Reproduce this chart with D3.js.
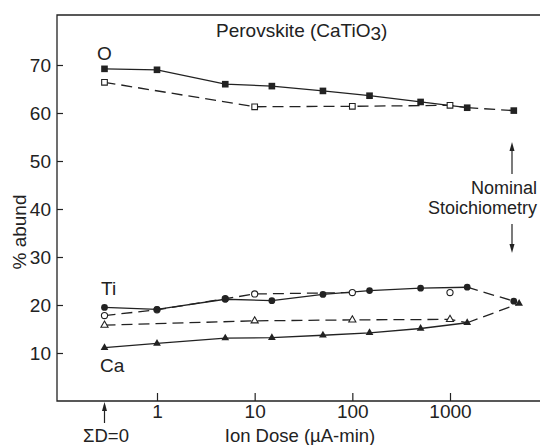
<!DOCTYPE html>
<html lang="en">
<head>
    <meta charset="UTF-8">
    <title>Perovskite ion dose</title>
    <script src="https://d3js.org/d3.v7.min.js"></script>
    <style>
        body {
            margin: 0;
            background: #fff;
            overflow: hidden;
        }
        text {
            fill: #222;
            font-family: 'Liberation Sans', Arial, sans-serif;
            font-size: 19px;
        }
    </style>
</head>
<body>
    <script>
        // doses (µA-min); 0 means ΣD=0
        const doseSolid = [0, 1, 5, 15, 50, 150, 500, 1500];
        const oSolid  = [69.2, 69.0, 66.0, 65.6, 64.6, 63.6, 62.3, 61.1];
        const tiSolid = [19.5, 19.1, 21.2, 20.9, 22.2, 23.0, 23.5, 23.7];
        const caSolid = [11.1, 12.0, 13.1, 13.2, 13.7, 14.2, 15.1, 16.3];

        const oOpenDose  = [0, 10, 100, 1000];
        const oOpen      = [66.4, 61.3, 61.4, 61.6];
        const tiOpenDose = [0, 1, 5, 10, 100, 1000];
        const tiOpen     = [17.8, 19.0, 21.3, 22.3, 22.6, 22.6];
        const caOpenDose = [0, 10, 100, 1000];
        const caOpen     = [15.8, 16.7, 16.9, 17.0];

        // nominal stoichiometry points (O, Ti, Ca)
        const nominalDose = [4500, 4500, 5100];
        const nominal     = [60.5, 20.8, 20.3];

        const yTicks = [10, 20, 30, 40, 50, 60, 70];
        const xTicks = [1, 10, 100, 1000];
        const zeroDosePos = 0.29; // where ΣD=0 sits on the log axis

        const width = 540, height = 445;
        const ink = "#222";

        const svg = d3.select("body").append("svg")
            .attr("width", width)
            .attr("height", height);

        const x = d3.scaleLog().domain([1, 1000]).range([157, 450]);
        const y = d3.scaleLinear().domain([0, 70]).range([401, 65]);
        const xd = d => x(d === 0 ? zeroDosePos : d);

        const frameL = 57, frameT = 15, frameR = 540;

        // frame
        svg.append("path")
            .attr("d", `M${frameR},${frameT}H${frameL}V${y(0)}H${frameR}`)
            .attr("fill", "none").attr("stroke", ink).attr("stroke-width", 1.3);

        // y axis
        const gy = svg.append("g")
            .attr("transform", `translate(${frameL},0)`)
            .call(d3.axisLeft(y).tickValues(yTicks).tickSizeInner(-6).tickSizeOuter(0).tickPadding(6));
        gy.select(".domain").remove();
        gy.attr("font-size", null).attr("font-family", null);
        gy.selectAll("line").attr("stroke", ink).attr("stroke-width", 1.2);

        // x axis
        const gx = svg.append("g")
            .attr("transform", `translate(0,${y(0)})`)
            .call(d3.axisBottom(x).tickValues(xTicks).tickFormat(d3.format("d"))
                .tickSizeInner(-8).tickSizeOuter(0).tickPadding(4));
        gx.select(".domain").remove();
        gx.attr("font-size", null).attr("font-family", null);
        gx.selectAll("line").attr("stroke", ink).attr("stroke-width", 1.2);

        // ΣD=0 arrow
        const zx = xd(0);
        svg.append("line").attr("x1", zx).attr("x2", zx).attr("y1", y(0) + 4).attr("y2", y(0) + 22)
            .attr("stroke", ink).attr("stroke-width", 1.2);
        svg.append("path")
            .attr("d", `M${zx},${y(0) + 1}l-2.5,9h5z`).attr("fill", ink);
        svg.append("text").attr("x", 106).attr("y", 442).attr("text-anchor", "middle")
            .style("font-size", "18.5px").text("ΣD=0");

        svg.append("text").attr("x", 300).attr("y", 442).attr("text-anchor", "middle")
            .style("font-size", "18.5px").text("Ion Dose (µA-min)");

        svg.append("text")
            .attr("transform", "translate(26,232) rotate(-90)")
            .attr("text-anchor", "middle")
            .text("% abund");

        // title
        const title = svg.append("text").attr("x", 216).attr("y", 37);
        title.append("tspan").text("Perovskite (CaTiO");
        title.append("tspan").attr("dy", 3).text("3");
        title.append("tspan").attr("dy", -3).text(")");

        // element labels
        const lab = [["O", 97, 60], ["Ti", 101, 295], ["Ca", 100, 372]];
        svg.selectAll("text.el").data(lab).enter().append("text")
            .attr("class", "el").attr("x", d => d[1]).attr("y", d => d[2])
            .text(d => d[0]);

        // Nominal Stoichiometry
        const nx = 512;
        svg.append("text").attr("x", 537).attr("y", 194).attr("text-anchor", "end")
            .style("font-size", "18px").text("Nominal");
        svg.append("text").attr("x", 537).attr("y", 214).attr("text-anchor", "end")
            .style("font-size", "18px").text("Stoichiometry");
        svg.append("line").attr("x1", nx).attr("x2", nx).attr("y1", 174).attr("y2", 146)
            .attr("stroke", ink).attr("stroke-width", 1.2);
        svg.append("path").attr("d", `M${nx},142l-2.5,9h5z`).attr("fill", ink);
        svg.append("line").attr("x1", nx).attr("x2", nx).attr("y1", 224).attr("y2", 249)
            .attr("stroke", ink).attr("stroke-width", 1.2);
        svg.append("path").attr("d", `M${nx},253l-2.5,-9h5z`).attr("fill", ink);

        const zip = (ds, vs) => ds.map((d, i) => ({ d, v: vs[i] }));
        const line = d3.line().x(p => xd(p.d)).y(p => y(p.v));

        function drawLine(pts, dashed) {
            svg.append("path").datum(pts)
                .attr("d", line)
                .attr("fill", "none")
                .attr("stroke", ink)
                .attr("stroke-width", 1.3)
                .attr("stroke-dasharray", dashed ? "11,6" : null);
        }

        const last = a => a[a.length - 1];
        const elements = [
            { solid: zip(doseSolid, oSolid),  open: zip(oOpenDose, oOpen),   nom: { d: nominalDose[0], v: nominal[0] }, sym: d3.symbolSquare,   size: 44, openSize: 32, join: true },
            { solid: zip(doseSolid, tiSolid), open: zip(tiOpenDose, tiOpen), nom: { d: nominalDose[1], v: nominal[1] }, sym: d3.symbolCircle,   size: 36, openSize: 30, join: false },
            { solid: zip(doseSolid, caSolid), open: zip(caOpenDose, caOpen), nom: { d: nominalDose[2], v: nominal[2] }, sym: d3.symbolTriangle, size: 26, openSize: 22, join: true }
        ];

        elements.forEach(el => {
            drawLine(el.solid, false);
            drawLine([last(el.solid), el.nom], true);
            // Ti open line stops at 100; its 1000 point stands alone
            const openPts = el.join ? el.open.concat([last(el.solid)]) : el.open.filter(p => p.d <= 100);
            drawLine(openPts, true);
        });

        elements.forEach(el => {
            const sym = d3.symbol().type(el.sym);
            svg.selectAll(null).data(el.open).enter().append("path")
                .attr("transform", p => `translate(${xd(p.d)},${y(p.v)})`)
                .attr("d", sym.size(el.openSize)())
                .attr("fill", "#fff").attr("stroke", ink).attr("stroke-width", 1.1);
            svg.selectAll(null).data(el.solid.concat([el.nom])).enter().append("path")
                .attr("transform", p => `translate(${xd(p.d)},${y(p.v)})`)
                .attr("d", sym.size(el.size)())
                .attr("fill", ink);
        });
    </script>
</body>
</html>
